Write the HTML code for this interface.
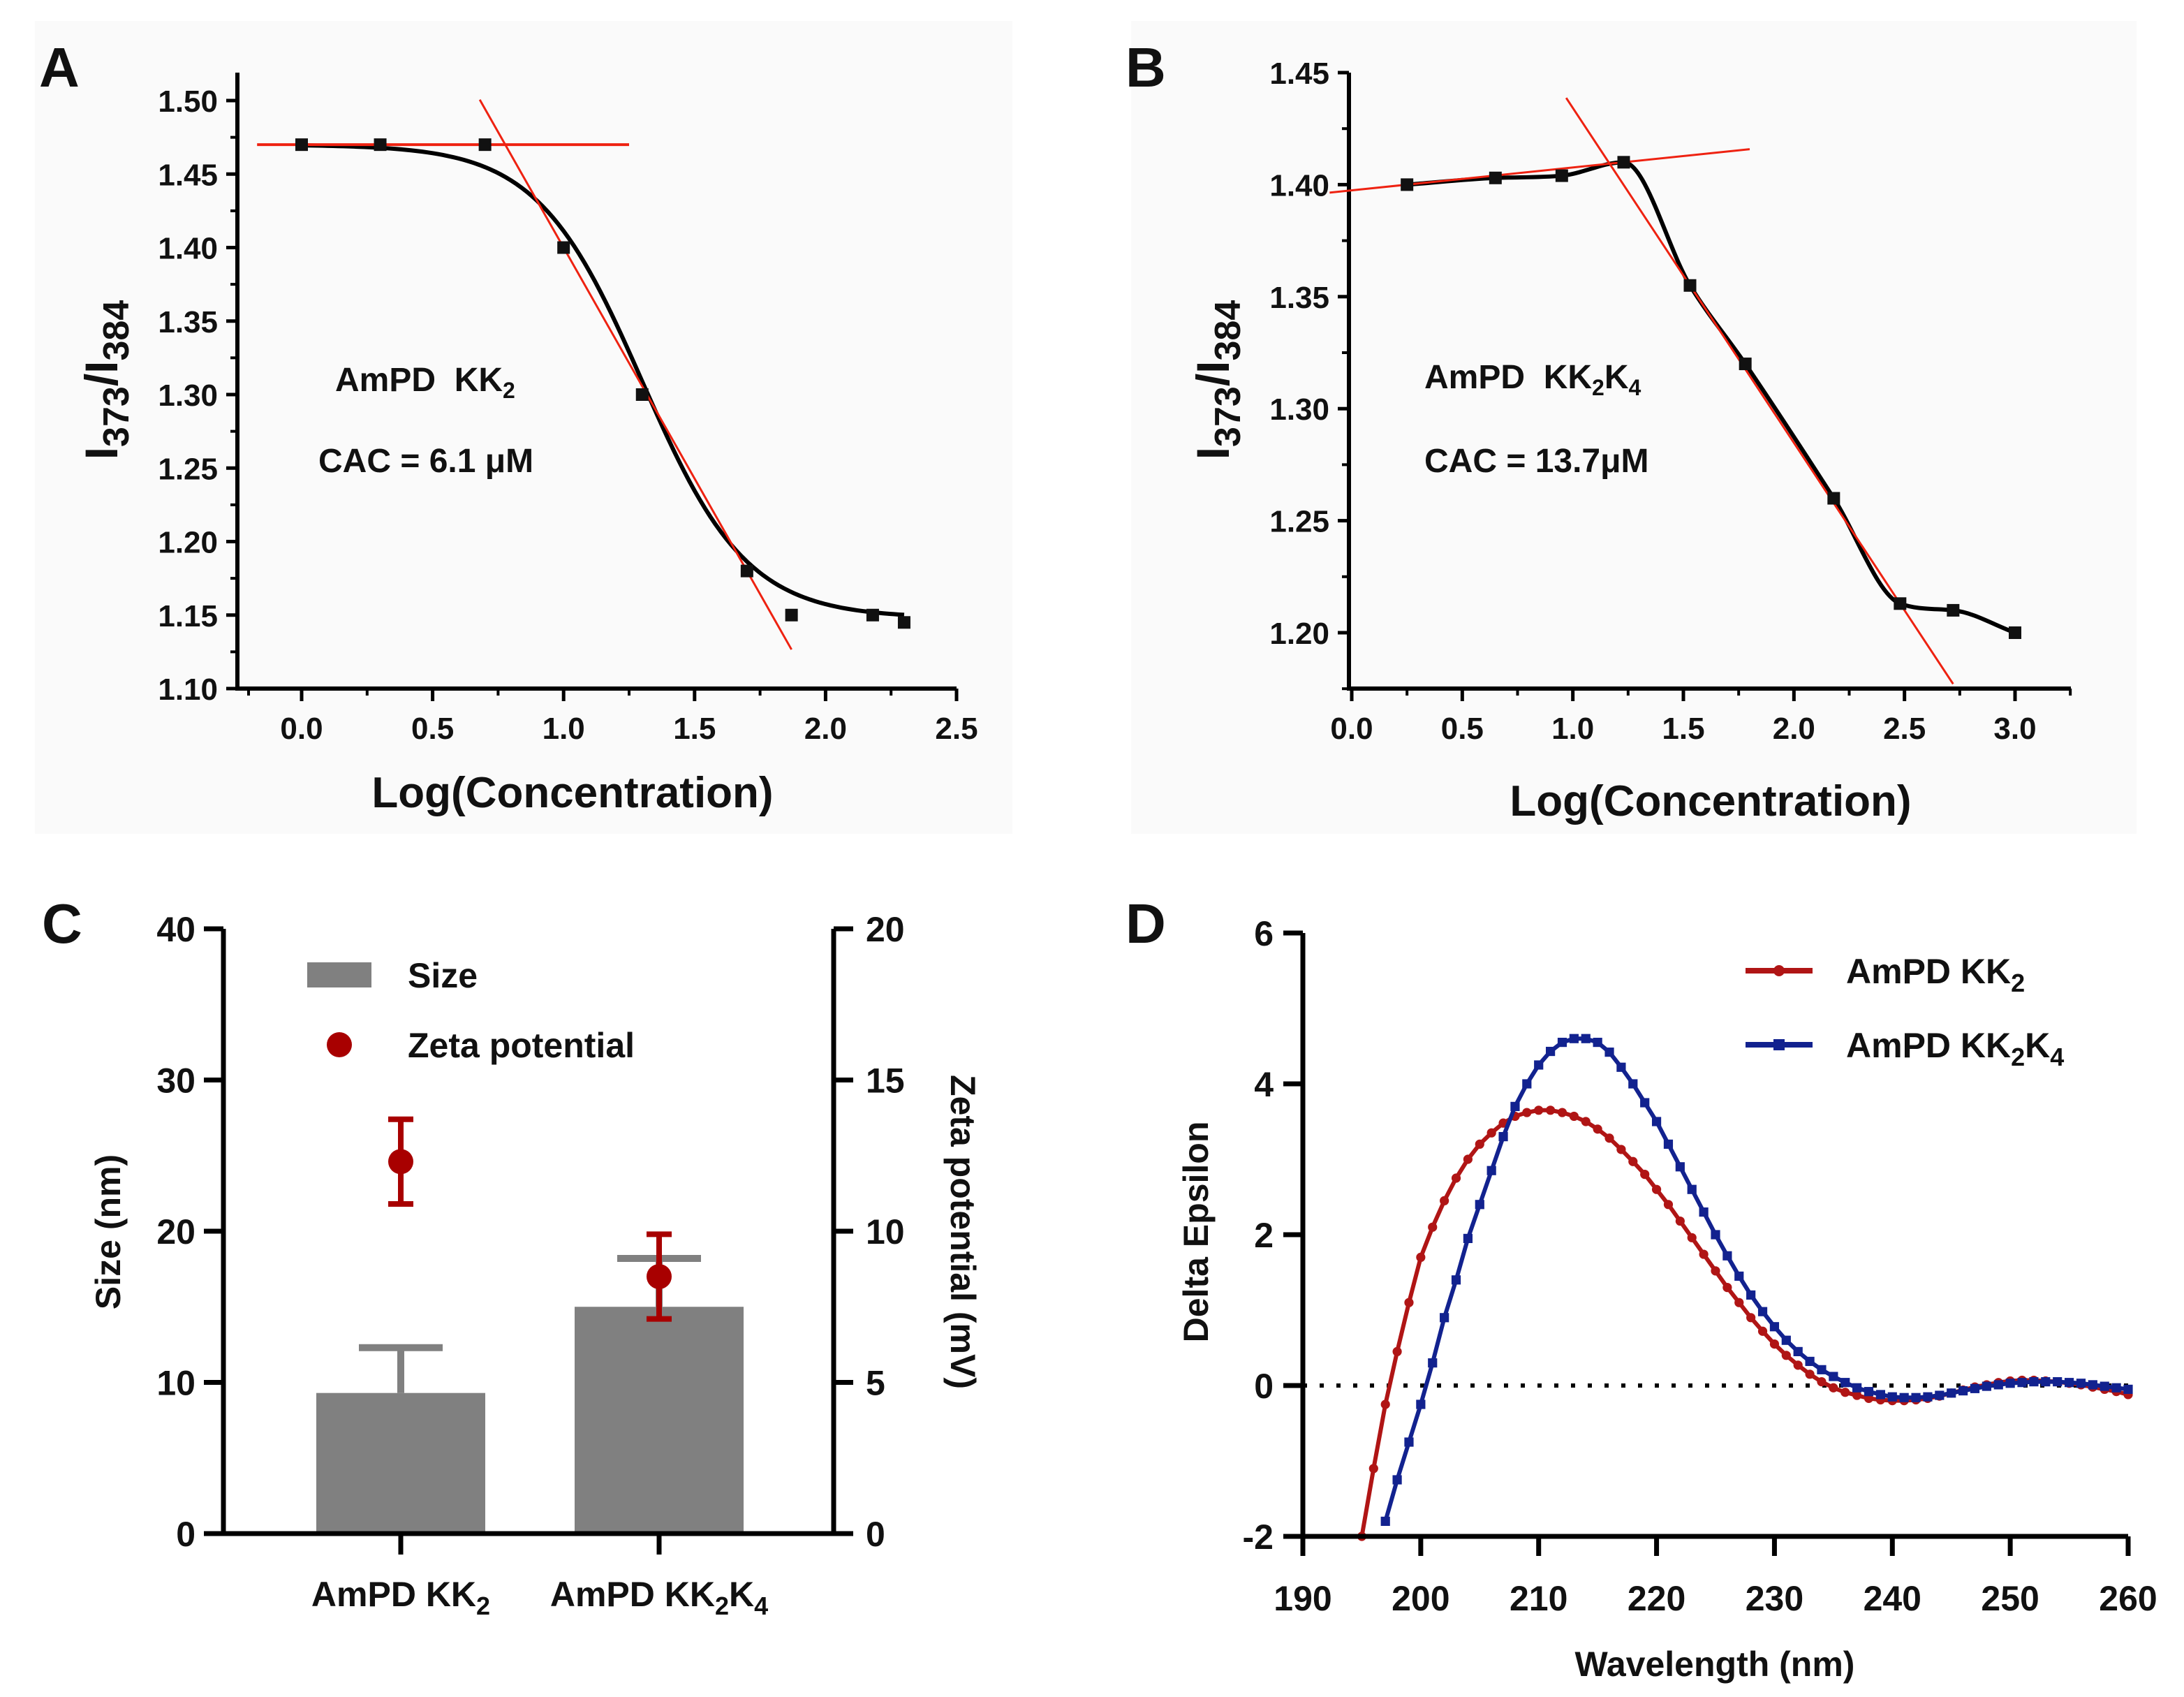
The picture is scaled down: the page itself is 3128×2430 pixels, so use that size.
<!DOCTYPE html>
<html><head><meta charset="utf-8"><style>
html,body{margin:0;padding:0;background:#fff;}
svg{display:block;}
text{font-family:"Liberation Sans",Arial,sans-serif;font-weight:bold;fill:#111;}
</style></head><body>
<svg id="fig" width="3128" height="2430" viewBox="0 0 1564 1215" xmlns="http://www.w3.org/2000/svg">
<rect x="25" y="15" width="700" height="582" fill="#fafafa"/>
<rect x="810" y="15" width="720" height="582" fill="#fafafa"/>
<g id="A"></g>
<g id="B"></g>
<g id="C"></g>
<g id="D"></g>
</svg>
<script>
// Panel A data
const aX = [0, 0.3, 0.7, 1.0, 1.3, 1.7, 1.87, 2.18, 2.3];
const aY = [1.47, 1.47, 1.47, 1.40, 1.30, 1.18, 1.15, 1.15, 1.145];
const aFit = [1.47, 1.148, 1.3, 0.2]; // top, bottom, x0, slope
const aXTicks = ["0.0","0.5","1.0","1.5","2.0","2.5"];
const aYTicks = ["1.10","1.15","1.20","1.25","1.30","1.35","1.40","1.45","1.50"];
// Panel B data
const bX = [0.25, 0.65, 0.95, 1.23, 1.53, 1.78, 2.18, 2.48, 2.72, 3.0];
const bY = [1.40, 1.403, 1.404, 1.41, 1.355, 1.32, 1.26, 1.213, 1.21, 1.20];
const bXTicks = ["0.0","0.5","1.0","1.5","2.0","2.5","3.0"];
const bYTicks = ["1.20","1.25","1.30","1.35","1.40","1.45"];
// Panel C data
const cCats = ["KK2", "KK2K4"];
const cSize = [9.3, 15.0];
const cSizeErr = [3.0, 3.2];
const cZeta = [12.3, 8.5];
const cZetaErr = [1.4, 1.4];
const cLeftTicks = ["0","10","20","30","40"];
const cRightTicks = ["0","5","10","15","20"];
// Panel D data
const dRedStart = 195;
const dRed = [-2,-1.1,-0.25,0.45,1.1,1.7,2.1,2.45,2.75,3.0,3.2,3.35,3.48,3.57,3.62,3.65,3.65,3.62,3.57,3.5,3.4,3.28,3.13,2.97,2.8,2.6,2.4,2.18,1.96,1.74,1.52,1.3,1.1,0.9,0.72,0.55,0.4,0.27,0.15,0.05,-0.03,-0.09,-0.13,-0.17,-0.19,-0.2,-0.2,-0.19,-0.17,-0.14,-0.1,-0.06,-0.02,0.01,0.04,0.06,0.07,0.07,0.06,0.05,0.03,0.01,-0.02,-0.05,-0.08,-0.12];
const dBlueStart = 197;
const dBlue = [-1.8,-1.25,-0.75,-0.25,0.3,0.9,1.4,1.95,2.4,2.85,3.3,3.7,4.0,4.25,4.43,4.55,4.6,4.6,4.55,4.42,4.22,4.0,3.75,3.5,3.2,2.9,2.6,2.3,2.0,1.72,1.45,1.2,0.98,0.78,0.6,0.45,0.32,0.21,0.12,0.04,-0.03,-0.08,-0.12,-0.15,-0.16,-0.16,-0.15,-0.13,-0.1,-0.07,-0.04,-0.01,0.01,0.03,0.04,0.05,0.05,0.05,0.04,0.03,0.01,-0.01,-0.03,-0.05];
const dXTicks = ["190","200","210","220","230","240","250","260"];
const dYTicks = ["-2","0","2","4","6"];

const NS = "http://www.w3.org/2000/svg";
function mk(parent, tag, attrs, txt) {
  const e = document.createElementNS(NS, tag);
  for (const k in attrs) e.setAttribute(k, attrs[k]);
  if (txt !== undefined) e.innerHTML = txt;
  parent.appendChild(e);
  return e;
}
function lin(d0, d1, r0, r1) { return v => r0 + (v - d0) / (d1 - d0) * (r1 - r0); }
function monotone(pts) {
  const n = pts.length, dx = [], m = [], t = [];
  for (let i = 0; i < n - 1; i++) { dx.push(pts[i + 1][0] - pts[i][0]); m.push((pts[i + 1][1] - pts[i][1]) / dx[i]); }
  t.push(m[0]);
  for (let i = 1; i < n - 1; i++) t.push(m[i - 1] * m[i] <= 0 ? 0 : (m[i - 1] + m[i]) / 2);
  t.push(m[n - 2]);
  for (let i = 0; i < n - 1; i++) {
    if (m[i] === 0) { t[i] = 0; t[i + 1] = 0; continue; }
    const a = t[i] / m[i], b = t[i + 1] / m[i], s = a * a + b * b;
    if (s > 9) { const k = 3 / Math.sqrt(s); t[i] = k * a * m[i]; t[i + 1] = k * b * m[i]; }
  }
  let d = "M" + pts[0][0] + "," + pts[0][1];
  for (let i = 0; i < n - 1; i++) {
    const h = dx[i] / 3;
    d += " C" + (pts[i][0] + h) + "," + (pts[i][1] + t[i] * h) + " " + (pts[i + 1][0] - h) + "," + (pts[i + 1][1] - t[i + 1] * h) + " " + pts[i + 1][0] + "," + pts[i + 1][1];
  }
  return d;
}

// ---------- Panel A ----------
(function () {
  const g = document.getElementById("A");
  const X = lin(0, 2.5, 216, 685), Y = lin(1.10, 1.50, 493, 72);
  let t = mk(g, "text", {x: 28, y: 62, "font-size": 40}, "A");
   
  let ax = mk(g, "path", {d: "M170,52 V493 H685", stroke: "#000", "stroke-width": 3, fill: "none"});
   
  aYTicks.forEach((s, i) => {
    const y = Y(parseFloat(s));
    mk(g, "line", {x1: 162, x2: 170, y1: y, y2: y, stroke: "#000", "stroke-width": 2.5});
    if (i < aYTicks.length - 1) { const ym = Y(parseFloat(s) + 0.025); mk(g, "line", {x1: 165, x2: 170, y1: ym, y2: ym, stroke: "#000", "stroke-width": 2}); }
    const e = mk(g, "text", {x: 156, y: y + 8, "font-size": 22, "text-anchor": "end"}, s);
     
  });
  aXTicks.forEach((s, i) => {
    const x = X(parseFloat(s));
    mk(g, "line", {x1: x, x2: x, y1: 493, y2: 502, stroke: "#000", "stroke-width": 2.5});
    if (i < aXTicks.length - 1) { const xm = X(parseFloat(s) + 0.25); mk(g, "line", {x1: xm, x2: xm, y1: 493, y2: 498, stroke: "#000", "stroke-width": 2}); }
    const e = mk(g, "text", {x: x, y: 529, "font-size": 22, "text-anchor": "middle"}, s);
     
  });
  mk(g, "line", {x1: 178, x2: 178, y1: 493, y2: 498, stroke: "#000", "stroke-width": 2});
  t = mk(g, "text", {x: 410, y: 578, "font-size": 31, "text-anchor": "middle"}, "Log(Concentration)");
   
  t = mk(g, "text", {x: 0, y: 0, "font-size": 33, "text-anchor": "middle", transform: "translate(84,272) rotate(-90)"}, "I<tspan font-size='26' dy='8'>373</tspan><tspan dy='-8'>/I</tspan><tspan font-size='26' dy='8'>384</tspan>");
   
  const fp = [];
  for (let v = 0; v <= 2.3001; v += 0.02) fp.push([X(v), Y(aFit[1] + (aFit[0] - aFit[1]) / (1 + Math.exp((v - aFit[2]) / aFit[3])))]);
  t = mk(g, "path", {d: "M" + fp.map(p => p.join(",")).join(" L"), stroke: "#000", "stroke-width": 3, fill: "none"});
   
  t = mk(g, "line", {x1: X(-0.17), x2: X(1.25), y1: Y(aY[0]), y2: Y(aY[0]), stroke: "#e21", "stroke-width": 2});
   
  const sl = (aY[5] - aY[3]) / (aX[5] - aX[3]);
  t = mk(g, "line", {x1: X(0.68), y1: Y(aY[3] + sl * (0.68 - aX[3])), x2: X(1.87), y2: Y(aY[3] + sl * (1.87 - aX[3])), stroke: "#e21", "stroke-width": 1.5});
   
  aX.forEach((v, i) => {
    const e = mk(g, "rect", {x: X(v) - 4.5, y: Y(aY[i]) - 4.5, width: 9, height: 9, fill: "#111"});
     
  });
  t = mk(g, "text", {x: 240, y: 280, "font-size": 24, fill: "#333"}, "AmPD&#160; KK<tspan font-size='16' dy='5'>2</tspan>");
   
  t = mk(g, "text", {x: 228, y: 338, "font-size": 24, fill: "#333"}, "CAC = 6.1 μM");
   
})();

// ---------- Panel B ----------
(function () {
  const g = document.getElementById("B");
  const X = lin(0, 3.0, 968, 1443), Y = lin(1.20, 1.45, 453, 52);
  let t = mk(g, "text", {x: 806, y: 62, "font-size": 40}, "B");
   
  t = mk(g, "path", {d: "M966,52 V493 H1483", stroke: "#000", "stroke-width": 3, fill: "none"});
   
  bYTicks.forEach((s, i) => {
    const y = Y(parseFloat(s));
    mk(g, "line", {x1: 958, x2: 966, y1: y, y2: y, stroke: "#000", "stroke-width": 2.5});
    const ym = Y(parseFloat(s) - 0.025); mk(g, "line", {x1: 961, x2: 966, y1: ym, y2: ym, stroke: "#000", "stroke-width": 2});
    const e = mk(g, "text", {x: 952, y: y + 8, "font-size": 22, "text-anchor": "end"}, s);
     
  });
  bXTicks.forEach((s, i) => {
    const x = X(parseFloat(s));
    mk(g, "line", {x1: x, x2: x, y1: 493, y2: 502, stroke: "#000", "stroke-width": 2.5});
    const xm = X(parseFloat(s) + 0.25); mk(g, "line", {x1: xm, x2: xm, y1: 493, y2: 498, stroke: "#000", "stroke-width": 2});
    const e = mk(g, "text", {x: x, y: 529, "font-size": 22, "text-anchor": "middle"}, s);
     
  });
  t = mk(g, "text", {x: 1225, y: 584, "font-size": 31, "text-anchor": "middle"}, "Log(Concentration)");
   
  t = mk(g, "text", {x: 0, y: 0, "font-size": 33, "text-anchor": "middle", transform: "translate(880,272) rotate(-90)"}, "I<tspan font-size='26' dy='8'>373</tspan><tspan dy='-8'>/I</tspan><tspan font-size='26' dy='8'>384</tspan>");
   
  t = mk(g, "path", {d: monotone(bX.map((v, i) => [X(v), Y(bY[i])])), stroke: "#000", "stroke-width": 3, fill: "none"});
   
  const s1 = (bY[3] - bY[0]) / (bX[3] - bX[0]);
  t = mk(g, "line", {x1: X(-0.1), y1: Y(bY[0] + s1 * (-0.1 - bX[0])), x2: X(1.8), y2: Y(bY[0] + s1 * (1.8 - bX[0])), stroke: "#e21", "stroke-width": 1.5});
   
  const s2 = (bY[7] - bY[4]) / (bX[7] - bX[4]);
  t = mk(g, "line", {x1: X(0.97), y1: Y(bY[4] + s2 * (0.97 - bX[4])), x2: X(2.72), y2: Y(bY[4] + s2 * (2.72 - bX[4])), stroke: "#e21", "stroke-width": 1.5});
   
  bX.forEach((v, i) => {
    const e = mk(g, "rect", {x: X(v) - 4.5, y: Y(bY[i]) - 4.5, width: 9, height: 9, fill: "#111"});
     
  });
  t = mk(g, "text", {x: 1020, y: 278, "font-size": 24, fill: "#333"}, "AmPD&#160; KK<tspan font-size='16' dy='5'>2</tspan><tspan dy='-5'>K</tspan><tspan font-size='16' dy='5'>4</tspan>");
   
  t = mk(g, "text", {x: 1020, y: 338, "font-size": 24, fill: "#333"}, "CAC = 13.7μM");
   
})();

// ---------- Panel C ----------
(function () {
  const g = document.getElementById("C");
  const YL = lin(0, 40, 1098, 665), YR = lin(0, 20, 1098, 665);
  const catX = [287, 472], bw = 121;
  let t = mk(g, "text", {x: 30, y: 675, "font-size": 40}, "C");
   
  cCats.forEach((c, i) => {
    const x = catX[i];
    let e = mk(g, "rect", {x: x - bw / 2, y: YL(cSize[i]), width: bw, height: YL(0) - YL(cSize[i]), fill: "#808080"});
     
    const ye = YL(cSize[i] + cSizeErr[i]);
    e = mk(g, "path", {d: `M${x},${YL(cSize[i])} V${ye} M${x - 30},${ye} H${x + 30}`, stroke: "#808080", "stroke-width": 5, fill: "none"});
     
  });
  t = mk(g, "path", {d: "M160,665 V1098 H597 V665", stroke: "#000", "stroke-width": 3.5, fill: "none"});
   
  cLeftTicks.forEach(s => {
    const y = YL(+s);
    mk(g, "line", {x1: 146, x2: 160, y1: y, y2: y, stroke: "#000", "stroke-width": 3.5});
    const e = mk(g, "text", {x: 140, y: y + 9, "font-size": 25, "text-anchor": "end"}, s);
     
  });
  cRightTicks.forEach(s => {
    const y = YR(+s);
    mk(g, "line", {x1: 597, x2: 611, y1: y, y2: y, stroke: "#000", "stroke-width": 3.5});
    const e = mk(g, "text", {x: 620, y: y + 9, "font-size": 25, fill: "#a80000"}, s);
     
  });
  catX.forEach(x => mk(g, "line", {x1: x, x2: x, y1: 1098, y2: 1113, stroke: "#000", "stroke-width": 3.5}));
  t = mk(g, "text", {x: 287, y: 1150, "font-size": 25, "text-anchor": "middle"}, "AmPD KK<tspan font-size='18' dy='6'>2</tspan>");
   
  t = mk(g, "text", {x: 472, y: 1150, "font-size": 25, "text-anchor": "middle"}, "AmPD KK<tspan font-size='18' dy='6'>2</tspan><tspan dy='-6'>K</tspan><tspan font-size='18' dy='6'>4</tspan>");
   
  cCats.forEach((c, i) => {
    const x = catX[i];
    const y1 = YR(cZeta[i] + cZetaErr[i]), y2 = YR(cZeta[i] - cZetaErr[i]);
    let e = mk(g, "path", {d: `M${x},${y1} V${y2} M${x - 9},${y1} H${x + 9} M${x - 9},${y2} H${x + 9}`, stroke: "#a80000", "stroke-width": 4, fill: "none"});
     
    e = mk(g, "circle", {cx: x, cy: YR(cZeta[i]), r: 9, fill: "#a80000"});
     
  });
  t = mk(g, "rect", {x: 220, y: 689, width: 46, height: 18, fill: "#808080"});
   
  t = mk(g, "text", {x: 292, y: 707, "font-size": 25}, "Size");
   
  t = mk(g, "circle", {cx: 243, cy: 748, r: 9, fill: "#a80000"});
   
  t = mk(g, "text", {x: 292, y: 757, "font-size": 25}, "Zeta potential");
   
  t = mk(g, "text", {x: 0, y: 0, "font-size": 25, "text-anchor": "middle", transform: "translate(86,882) rotate(-90)"}, "Size (nm)");
   
  t = mk(g, "text", {x: 0, y: 0, "font-size": 25, "text-anchor": "middle", fill: "#a80000", transform: "translate(681,882) rotate(90)"}, "Zeta potential (mV)");
   
})();

// ---------- Panel D ----------
(function () {
  const g = document.getElementById("D");
  const X = lin(190, 260, 933, 1524), Y = lin(-2, 6, 1100, 668);
  let t = mk(g, "text", {x: 806, y: 675, "font-size": 40}, "D");
   
  t = mk(g, "line", {x1: 933, x2: 1524, y1: Y(0), y2: Y(0), stroke: "#000", "stroke-width": 3, "stroke-dasharray": "3,9"});
   
  const series = [[dRed, dRedStart, "#b01515", "circle", "series-kk2"], [dBlue, dBlueStart, "#12228f", "rect", "series-kk2k4"]];
  series.forEach(([arr, st, col, shape, nm]) => {
    const pts = arr.map((v, i) => [X(st + i), Y(v)]);
    let e = mk(g, "path", {d: "M" + pts.map(p => p.join(",")).join(" L"), stroke: col, "stroke-width": 3, fill: "none"});
     
    pts.forEach(p => {
      const m = shape === "circle" ? mk(g, "circle", {cx: p[0], cy: p[1], r: 3.3, fill: col}) : mk(g, "rect", {x: p[0] - 3.3, y: p[1] - 3.3, width: 6.6, height: 6.6, fill: col});
       
    });
  });
  t = mk(g, "path", {d: "M933,668 V1100 H1524", stroke: "#000", "stroke-width": 3.5, fill: "none"});
   
  dYTicks.forEach(s => {
    const y = Y(+s);
    mk(g, "line", {x1: 919, x2: 933, y1: y, y2: y, stroke: "#000", "stroke-width": 3.5});
    const e = mk(g, "text", {x: 912, y: y + 9, "font-size": 25, "text-anchor": "end"}, s);
     
  });
  dXTicks.forEach(s => {
    const x = X(+s);
    mk(g, "line", {x1: x, x2: x, y1: 1100, y2: 1114, stroke: "#000", "stroke-width": 3.5});
    const e = mk(g, "text", {x: x, y: 1153, "font-size": 25, "text-anchor": "middle"}, s);
     
  });
  t = mk(g, "text", {x: 1228, y: 1200, "font-size": 25, "text-anchor": "middle"}, "Wavelength (nm)");
   
  t = mk(g, "text", {x: 0, y: 0, "font-size": 25, "text-anchor": "middle", transform: "translate(865,882) rotate(-90)"}, "Delta Epsilon");
   
  t = mk(g, "line", {x1: 1250, x2: 1298, y1: 695, y2: 695, stroke: "#b01515", "stroke-width": 4});
   
  mk(g, "circle", {cx: 1274, cy: 695, r: 4, fill: "#b01515"});
  t = mk(g, "text", {x: 1322, y: 704, "font-size": 25}, "AmPD KK<tspan font-size='18' dy='6'>2</tspan>");
   
  t = mk(g, "line", {x1: 1250, x2: 1298, y1: 748, y2: 748, stroke: "#12228f", "stroke-width": 4});
   
  mk(g, "rect", {x: 1270, y: 744, width: 8, height: 8, fill: "#12228f"});
  t = mk(g, "text", {x: 1322, y: 757, "font-size": 25}, "AmPD KK<tspan font-size='18' dy='6'>2</tspan><tspan dy='-6'>K</tspan><tspan font-size='18' dy='6'>4</tspan>");
   
})();
</script>
</body></html>
